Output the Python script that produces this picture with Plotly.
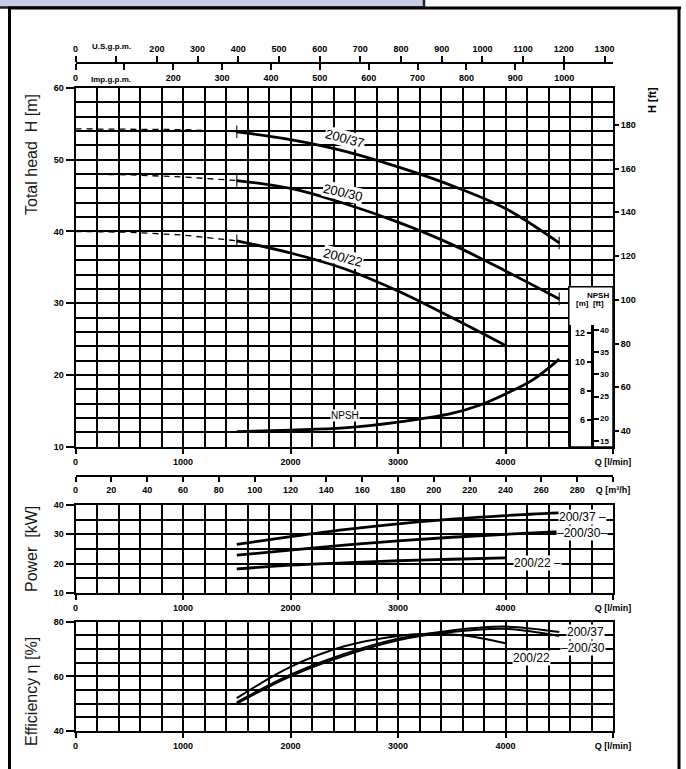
import plotly.graph_objects as go

# ---------------- data ----------------
# Head curves H [m] vs Q [l/min]
q_dash = [0, 500, 1000, 1500]
h37_dash = [54.3, 54.3, 54.2, 53.9]
h30_dash = [48.0, 47.9, 47.6, 47.1]
h22_dash = [40.0, 39.9, 39.5, 38.7]

q_head = [1500, 2000, 2500, 3000, 3500, 4000, 4500]
h37 = [53.9, 52.8, 51.2, 49.0, 46.4, 43.2, 38.4]
h30 = [47.1, 46.0, 43.9, 41.3, 38.2, 34.5, 30.6]
q_head22 = [1500, 2000, 2500, 3000, 3500, 4000]
h22 = [38.7, 37.0, 34.8, 31.7, 28.0, 24.1]

# NPSH [m]
q_npsh = [1500, 2000, 2500, 3000, 3500, 3750, 4000, 4250, 4500]
npsh = [5.2, 5.3, 5.45, 5.85, 6.45, 7.0, 7.8, 8.75, 10.2]

# Power [kW]
q_pow = [1500, 2000, 2500, 3000, 3500, 4000, 4500]
p37 = [26.6, 29.2, 31.6, 33.6, 35.2, 36.4, 37.3]
p30 = [22.9, 24.6, 26.3, 27.8, 29.0, 30.0, 30.9]
q_pow22 = [1500, 2000, 2500, 3000, 3500, 4000]
p22 = [18.2, 19.5, 20.3, 21.0, 21.5, 22.0]

# Efficiency [%]
q_eff = [1500, 2000, 2500, 3000, 3500, 4000, 4500]
e37 = [50.5, 60.6, 68.2, 73.8, 76.8, 78.2, 76.2]
e30 = [50.0, 60.0, 67.5, 73.2, 76.2, 77.4, 74.8]
q_eff22 = [1500, 2000, 2500, 3000, 3300, 3600, 4000]
e22 = [52.0, 63.5, 71.0, 74.8, 75.6, 75.0, 72.1]

# tick labels
lpm_ticks = [0, 1000, 2000, 3000, 4000, 5000]
lpm_text = ["0", "1000", "2000", "3000", "4000", "Q [l/min]"]
usgpm_ticks = list(range(0, 1400, 100))
usgpm_text = ["0", ""] + [str(v) for v in range(200, 1400, 100)]
impgpm_ticks = list(range(0, 1200, 100))
impgpm_text = ["0", ""] + [str(v) for v in range(200, 1200, 100)]
m3h_ticks = list(range(0, 320, 20))
m3h_text = [str(v) for v in range(0, 300, 20)] + ["Q [m³/h]"]
ft_ticks = list(range(40, 200, 20))
npsh_m_ticks = [6, 8, 10, 12]
npsh_ft_ticks = [15, 20, 25, 30, 35, 40]

# ---------------- geometry helpers ----------------
W, HGT = 686, 769
def fx(p):
    return p / W
def fy(p):
    return 1 - p / HGT

X0, X1 = 75.5, 613.0
QMAX = 5000.0
LPM_PER_USGPM = 3.78541
LPM_PER_IMPGPM = 4.54609
M_TO_FT = 3.28084

main_top, main_bot = 88.0, 446.7
pow_top, pow_bot = 505.0, 593.0
eff_top, eff_bot = 621.7, 731.0
npsh_top_px = 325.0
# NPSH scale: 14.5 px per m, 10 m at y=362
def npsh_at(py):
    return 10 - (py - 362.0) / 14.5
npsh_lo, npsh_hi = npsh_at(main_bot), npsh_at(npsh_top_px)

TICKFONT = dict(family="Liberation Sans", size=9, color="black", weight="bold")
GRID = dict(showgrid=True, gridcolor="black", gridwidth=1.8)
LINE = dict(showline=True, linecolor="black", linewidth=2, mirror=True)

fig = go.Figure()

def sizes(n, s=9):
    return [s] + [0] * (n - 2) + [s]

# head curves
for qd, hd in [(q_dash, h37_dash), (q_dash, h30_dash), (q_dash, h22_dash)]:
    fig.add_trace(go.Scatter(x=qd, y=hd, mode="lines", xaxis="x", yaxis="y",
                             line=dict(color="black", width=1.3, dash="6px,5px"),
                             showlegend=False, hoverinfo="skip"))
for qq, hh in [(q_head, h37), (q_head, h30), (q_head22, h22)]:
    fig.add_trace(go.Scatter(x=qq, y=hh, mode="lines+markers", xaxis="x", yaxis="y",
                             line=dict(color="black", width=2.8, shape="spline"),
                             marker=dict(symbol="line-ns", size=sizes(len(qq)),
                                         line=dict(color="black", width=1.5)),
                             showlegend=False, hoverinfo="skip"))
# NPSH
fig.add_trace(go.Scatter(x=q_npsh, y=npsh, mode="lines", xaxis="x", yaxis="y3",
                         line=dict(color="black", width=2.8, shape="spline"),
                         showlegend=False, hoverinfo="skip"))
# power
for qq, pp in [(q_pow, p37), (q_pow, p30), (q_pow22, p22)]:
    fig.add_trace(go.Scatter(x=qq, y=pp, mode="lines", xaxis="x5", yaxis="y5",
                             line=dict(color="black", width=2.8, shape="spline"),
                             showlegend=False, hoverinfo="skip"))
# efficiency
for qq, ee in [(q_eff, e37), (q_eff, e30), (q_eff22, e22)]:
    fig.add_trace(go.Scatter(x=qq, y=ee, mode="lines", xaxis="x6", yaxis="y6",
                             line=dict(color="black", width=2.0, shape="spline"),
                             showlegend=False, hoverinfo="skip"))
# empty traces so that the secondary unit axes are drawn
for xa, ya in [("x2", "y"), ("x3", "y"), ("x4", "y"), ("x", "y2"), ("x", "y4")]:
    fig.add_trace(go.Scatter(x=[], y=[], xaxis=xa, yaxis=ya, mode="lines",
                             showlegend=False, hoverinfo="skip"))

xdom = [fx(X0), fx(X1)]
lpm_axis = dict(domain=xdom, range=[0, QMAX], tickmode="array", tickvals=lpm_ticks,
                ticktext=lpm_text, ticks="outside", ticklen=5, tickwidth=1.5,
                tickcolor="black", tickfont=TICKFONT, zeroline=False, automargin=False,
                minor=dict(tickmode="linear", tick0=0, dtick=200, showgrid=True,
                           gridcolor="black", gridwidth=1.8),
                **GRID, **LINE)

fig.update_layout(
    width=W, height=HGT, margin=dict(l=0, r=0, t=0, b=0, pad=0, autoexpand=False),
    paper_bgcolor="white", plot_bgcolor="rgba(0,0,0,0)",
    showlegend=False,
    xaxis=dict(anchor="y", **lpm_axis),
    yaxis=dict(domain=[fy(main_bot), fy(main_top)], range=[10, 60], anchor="x",
               tickmode="array", tickvals=[10, 20, 30, 40, 50, 60],
               ticks="outside", ticklen=8, tickwidth=1.5, tickcolor="black",
               tickfont=TICKFONT, zeroline=False, automargin=False,
               minor=dict(tickmode="linear", tick0=10, dtick=2, showgrid=True,
                          gridcolor="black", gridwidth=1.8),
               **GRID, **LINE),
    yaxis2=dict(overlaying="y", side="right", anchor="x", automargin=False,
                range=[10 * M_TO_FT, 60 * M_TO_FT], tickmode="array", tickvals=ft_ticks,
                ticks="outside", ticklen=5, tickwidth=1.5, tickcolor="black",
                tickfont=TICKFONT, showgrid=False, zeroline=False, showline=False),
    xaxis2=dict(overlaying="x", anchor="free", position=fy(63), side="top",
                range=[0, QMAX / LPM_PER_USGPM], tickmode="array", automargin=False,
                tickvals=usgpm_ticks, ticktext=usgpm_text, ticks="outside",
                ticklen=6, tickwidth=1.5, tickcolor="black", tickfont=TICKFONT,
                showgrid=False, zeroline=False, showline=True, linecolor="black",
                linewidth=2),
    xaxis3=dict(overlaying="x", anchor="free", position=fy(63), side="bottom",
                range=[0, QMAX / LPM_PER_IMPGPM], tickmode="array", automargin=False,
                tickvals=impgpm_ticks, ticktext=impgpm_text, ticks="outside",
                ticklen=6, tickwidth=1.5, tickcolor="black", tickfont=TICKFONT,
                showgrid=False, zeroline=False, showline=False),
    xaxis4=dict(overlaying="x", anchor="free", position=fy(476), side="bottom",
                range=[0, QMAX * 60 / 1000], tickmode="array", automargin=False,
                tickvals=m3h_ticks, ticktext=m3h_text, ticks="outside",
                ticklen=5, tickwidth=1.5, tickcolor="black", tickfont=TICKFONT,
                showgrid=False, zeroline=False, showline=True, linecolor="black",
                linewidth=2),
    yaxis3=dict(domain=[fy(main_bot), fy(npsh_top_px)], range=[npsh_lo, npsh_hi],
                anchor="free", position=fx(592.5), side="left", automargin=False,
                tickmode="array", tickvals=npsh_m_ticks, ticks="outside",
                ticklen=5, tickwidth=1.5, tickcolor="black", tickfont=TICKFONT,
                showgrid=False, zeroline=False, showline=True, linecolor="black",
                linewidth=1.5),
    yaxis4=dict(overlaying="y3", anchor="free", position=fx(592.5), side="right",
                range=[npsh_lo * M_TO_FT, npsh_hi * M_TO_FT], automargin=False,
                tickmode="array", tickvals=npsh_ft_ticks, ticks="outside",
                ticklen=5, tickwidth=1.5, tickcolor="black",
                tickfont=dict(family="Liberation Sans", size=8, color="black", weight="bold"),
                showgrid=False, zeroline=False, showline=False),
    xaxis5=dict(anchor="y5", **lpm_axis),
    yaxis5=dict(domain=[fy(pow_bot), fy(pow_top)], range=[10, 40], anchor="x5",
                tickmode="array", tickvals=[10, 20, 30, 40], automargin=False,
                ticks="outside", ticklen=8, tickwidth=1.5, tickcolor="black",
                tickfont=TICKFONT, zeroline=False,
                minor=dict(tickmode="linear", tick0=10, dtick=5, showgrid=True,
                           gridcolor="black", gridwidth=1.8),
                **GRID, **LINE),
    xaxis6=dict(anchor="y6", **lpm_axis),
    yaxis6=dict(domain=[fy(eff_bot), fy(eff_top)], range=[40, 80], anchor="x6",
                tickmode="array", tickvals=[40, 60, 80], automargin=False,
                ticks="outside", ticklen=8, tickwidth=1.5, tickcolor="black",
                tickfont=TICKFONT, zeroline=False,
                minor=dict(tickmode="linear", tick0=40, dtick=5, showgrid=True,
                           gridcolor="black", gridwidth=1.8),
                **GRID, **LINE),
)

# NPSH inset box (covers the grid)
qpx = (X1 - X0) / QMAX
hpx = (main_bot - main_top) / 50.0
fig.add_shape(type="rect", xref="x", yref="y", layer="between",
              x0=(568.8 - X0) / qpx, x1=QMAX, y0=10, y1=60 - (286.8 - main_top) / hpx,
              fillcolor="white", line=dict(color="black", width=1.5))

# frame and header bar
fig.add_shape(type="rect", xref="paper", yref="paper", x0=-0.01, x1=fx(424),
              y0=fy(7.5), y1=1.01, fillcolor="#c6cde8", line=dict(color="#222", width=2.5))
fig.add_shape(type="line", xref="paper", yref="paper", x0=fx(9.5), x1=fx(9.5),
              y0=fy(7.5), y1=-0.01, line=dict(color="black", width=3))
fig.add_shape(type="line", xref="paper", yref="paper", x0=fx(679), x1=fx(679),
              y0=fy(7.5), y1=-0.01, line=dict(color="black", width=3))
fig.add_shape(type="line", xref="paper", yref="paper", x0=fx(8), x1=fx(681),
              y0=fy(8), y1=fy(8), line=dict(color="black", width=3))

ann = []
TITLEFONT = dict(family="Liberation Sans", size=16, color="#1a1a1a")
def pa(text, x, y, angle=0, font=None, **kw):
    ann.append(dict(text=text, x=fx(x), y=fy(y), xref="paper", yref="paper",
                    showarrow=False, textangle=angle, font=font or TITLEFONT,
                    xanchor="center", yanchor="middle", **kw))

pa("Total head  H [m]", 31, 155, -90)
pa("Power  [kW]", 31, 549, -90)
pa("Efficiency η [%]", 31, 692, -90)
pa("H [ft]", 652, 100, -90, font=dict(family="Liberation Sans", size=11, color="black", weight="bold"))
SMALL = dict(family="Liberation Sans", size=8, color="black", weight="bold")
pa("U.S.g.p.m.", 111, 47, font=SMALL)
pa("Imp.g.p.m.", 111, 79, font=SMALL)
pa("NPSH", 598, 295, font=SMALL)
pa("[m]  [ft]", 590, 304, font=SMALL)

def da(text, q, v, xr, yr, angle=0, size=13):
    ann.append(dict(text=text, x=q, y=v, xref=xr, yref=yr, showarrow=False,
                    textangle=angle, bgcolor="white", borderpad=0,
                    font=dict(family="Liberation Sans", size=size, color="black")))

da("200/37", 2507, 53.0, "x", "y", 15)
da("200/30", 2488, 45.4, "x", "y", 13)
da("200/22", 2488, 36.4, "x", "y", 15)
da("NPSH", 2507, 14.4, "x", "y", 0, 10)
da("200/37 –", 4720, 35.9, "x5", "y5", 0, 12)
da("–200/30–", 4712, 30.4, "x5", "y5", 0, 12)
da("200/22 –", 4300, 20.2, "x5", "y5", 0, 12)
da("200/37", 4740, 76.2, "x6", "y6", 0, 12)
da("–200/30", 4720, 70.4, "x6", "y6", 0, 12)
da("200/22", 4245, 66.7, "x6", "y6", 0, 12)

fig.update_layout(annotations=ann)
fig.write_html("out.html", config={"displayModeBar": False},
               post_script="document.body.style.margin='0';document.body.style.overflow='hidden';")
